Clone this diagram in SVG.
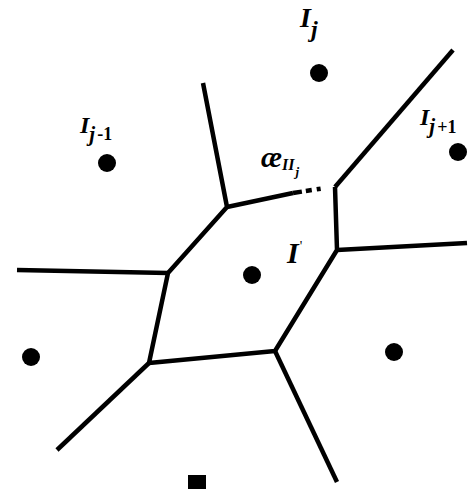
<svg xmlns="http://www.w3.org/2000/svg" width="470" height="489" viewBox="0 0 470 489">
<style>
.e{stroke:#000;stroke-width:4.5;fill:none;stroke-linecap:butt;stroke-linejoin:round}
.p{fill:#000}
.t{font-family:"Liberation Serif",serif;font-style:italic;font-weight:bold;fill:#000}
</style>
<rect width="470" height="489" fill="#fff"/>
<g id="connectors">
<polyline class="e" points="203,83 227,207 168,273 149,363 275,351 337,250 335,187"/>
<line class="e" x1="227" y1="207" x2="293" y2="193"/>
<line class="e" x1="293" y1="193" x2="325" y2="188" stroke-dasharray="9 4 6 5 4"/>
<line class="e" x1="335" y1="187" x2="453" y2="50"/>
<line class="e" x1="337" y1="250" x2="467" y2="243"/>
<line class="e" x1="168" y1="273" x2="17" y2="270"/>
<line class="e" x1="149" y1="363" x2="57" y2="450"/>
<line class="e" x1="275" y1="351" x2="337" y2="482"/>
</g>
<g id="site-Ij"><circle class="p" cx="319" cy="73" r="9"/><text class="t" x="300" y="27" font-size="28">I<tspan font-size="24" dx="0" dy="10">j</tspan></text></g>
<g id="site-Ij-1"><circle class="p" cx="107" cy="163" r="9"/><text class="t" x="80" y="133" font-size="24">I<tspan font-size="21" dx="0" dy="8">j</tspan><tspan font-size="18" dx="2" dy="-1" font-style="normal">-1</tspan></text></g>
<g id="site-Ij+1"><circle class="p" cx="458" cy="152" r="9"/><text class="t" x="420" y="125" font-size="24">I<tspan font-size="21" dx="0" dy="8">j</tspan><tspan font-size="18" dx="2" dy="0" font-style="normal">+1</tspan></text></g>
<g id="site-center"><circle class="p" cx="252" cy="275" r="9"/><text class="t" x="287" y="263" font-size="30">I<tspan font-size="14" font-weight="normal" dx="1" dy="-12" font-style="normal">'</tspan></text></g>
<g id="site-left"><circle class="p" cx="31" cy="357" r="9"/></g>
<g id="site-right"><circle class="p" cx="394" cy="352" r="9"/></g>
<g id="site-bottom"><rect class="p" x="188" y="475" width="18" height="14"/></g>
<g id="label-ae"><text class="t" x="261" y="167" font-size="29">æ<tspan font-size="16" dx="0" dy="3">II</tspan><tspan font-size="13" dx="1" dy="6">j</tspan></text></g>
</svg>
